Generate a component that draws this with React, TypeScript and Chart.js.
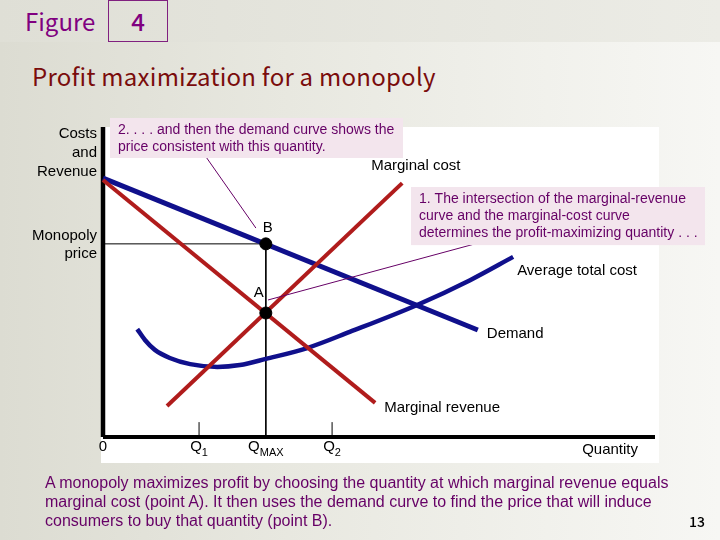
import React, { useEffect, useRef } from "react";
import { Chart, registerables } from "chart.js";

Chart.register(...registerables);

// ---- Axis ranges (quantity / costs & revenue units) ----
const X_MAX = 10;
const Y_MAX = 10;

// ---- Curves ----
const demandQ = [0, 6.79];
const demandP = [8.35, 3.45];

const mrQ = [0, 4.93];
const mrP = [8.29, 1.1];

const mcQ = [1.16, 5.42];
const mcP = [1.0, 8.19];

const atcQ = [0.62, 0.76, 0.94, 1.21, 1.58, 2.07, 2.48, 2.95, 3.7, 4.47, 5.69, 6.65, 7.43];
const atcP = [3.48, 3.13, 2.81, 2.55, 2.35, 2.26, 2.32, 2.52, 2.87, 3.39, 4.26, 5.06, 5.81];

// ---- Key values ----
const qMax = 2.95;
const monopolyPrice = 6.23;
const mrEqualsMc = 4.0;

// ---- Quantity ticks ----
const tickQ = [0, 1.74, 2.95, 4.15];
const tickMain = ["0", "Q", "Q", "Q"];
const tickSub = ["", "1", "MAX", "2"];
const tickMarkQ = [1.74, 4.15];
const tickMarkHeight = 0.48;

// ---- Text ----
const yAxisTitle = ["Costs", "and", "Revenue"];
const priceLabel = ["Monopoly", "price"];
const xAxisTitle = "Quantity";
const note2 = ["2. . . . and then the demand curve shows the", "price consistent with this quantity."];
const note1 = [
  "1. The intersection of the marginal-revenue",
  "curve and the marginal-cost curve",
  "determines the profit-maximizing quantity . . .",
];
const caption = [
  "A monopoly maximizes profit by choosing the quantity at which marginal revenue equals",
  "marginal cost (point A). It then uses the demand curve to find the price that will induce",
  "consumers to buy that quantity (point B).",
];

const pts = (xs: number[], ys: number[]) => xs.map((x, i) => ({ x, y: ys[i] }));

const SANS = '"Liberation Sans", Arial, sans-serif';
const JP = '"Noto Sans CJK JP", "Noto Sans", sans-serif';
const PURPLE = "#660066";
const BLUE = "#10108c";
const RED = "#b01c1c";
const PINK = "#f3e5ed";

const labelPlugin = {
  id: "econLabels",
  afterDraw(chart: any) {
    const { ctx } = chart;
    const xs = chart.scales.x;
    const ys = chart.scales.y;
    const X = (v: number) => xs.getPixelForValue(v);
    const Y = (v: number) => ys.getPixelForValue(v);
    ctx.save();
    ctx.textBaseline = "middle";

    // leader lines
    ctx.strokeStyle = PURPLE;
    ctx.lineWidth = 1;
    ctx.beginPath();
    ctx.moveTo(X(1.88), Y(9.0));
    ctx.lineTo(X(2.77), Y(6.74));
    ctx.moveTo(X(6.74), Y(6.23));
    ctx.lineTo(X(2.99), Y(4.42));
    ctx.stroke();

    // annotation boxes
    const box = (x0: number, x1: number, yT: number, yB: number, lines: string[]) => {
      const l = X(x0), r = X(x1), t = Y(yT), b = Y(yB);
      ctx.fillStyle = PINK;
      ctx.fillRect(l, t, r - l, b - t);
      ctx.fillStyle = PURPLE;
      ctx.font = `14px ${SANS}`;
      ctx.textAlign = "left";
      lines.forEach((s, i) => ctx.fillText(s, l + 8, t + 12 + i * 17));
    };
    box(0.127, 5.435, 10.29, 9.0, note2);
    box(5.58, 10.906, 8.065, 6.19, note1);

    // general labels
    ctx.fillStyle = "#000";
    ctx.font = `15px ${SANS}`;
    ctx.textAlign = "right";
    const ax = X(0) - 6;
    yAxisTitle.forEach((s, i) => ctx.fillText(s, ax, Y(Y_MAX) + 7 + i * 19));
    ctx.fillText(priceLabel[0], ax, Y(monopolyPrice) - 8);
    ctx.fillText(priceLabel[1], ax, Y(monopolyPrice) + 10);

    ctx.textAlign = "left";
    ctx.fillText("Demand", X(demandQ[1]) + 9, Y(demandP[1]) + 4);
    ctx.fillText("Marginal revenue", X(mrQ[1]) + 9, Y(mrP[1]) + 5);
    ctx.fillText("Marginal cost", X(mcQ[1]) - 31, Y(mcP[1]) - 17);
    ctx.fillText("Average total cost", X(atcQ[atcQ.length - 1]) + 4, Y(atcP[atcP.length - 1]) + 14);
    ctx.textAlign = "center";
    ctx.fillText("B", X(qMax) + 2, Y(monopolyPrice) - 16);
    ctx.fillText("A", X(qMax) - 7, Y(mrEqualsMc) - 20);

    // quantity tick labels
    const ty = Y(0) + 10;
    tickQ.forEach((q, i) => {
      ctx.font = `15px ${SANS}`;
      const wm = ctx.measureText(tickMain[i]).width;
      ctx.font = `11px ${SANS}`;
      const wsub = tickSub[i] ? ctx.measureText(tickSub[i]).width : 0;
      const start = X(q) - (wm + wsub) / 2;
      ctx.textAlign = "left";
      ctx.font = `15px ${SANS}`;
      ctx.fillText(tickMain[i], start, ty);
      if (tickSub[i]) {
        ctx.font = `11px ${SANS}`;
        ctx.fillText(tickSub[i], start + wm, ty + 6);
      }
    });
    ctx.font = `15px ${SANS}`;
    ctx.textAlign = "left";
    ctx.fillText(xAxisTitle, X(8.68), Y(0) + 13);
    ctx.restore();
  },
};

export default function App() {
  const ref = useRef<HTMLCanvasElement>(null);

  useEffect(() => {
    if (!ref.current) return;
    const line = (data: any[], color: string, width: number, extra: any = {}) => ({
      data,
      showLine: true,
      borderColor: color,
      borderWidth: width,
      pointRadius: 0,
      clip: false,
      ...extra,
    });
    const chart = new Chart(ref.current, {
      type: "scatter",
      data: {
        datasets: [
          {
            data: [
              { x: qMax, y: monopolyPrice },
              { x: qMax, y: mrEqualsMc },
            ],
            showLine: false,
            pointRadius: 6,
            backgroundColor: "#000",
            borderColor: "#000",
            clip: false,
          },
          line(pts(mcQ, mcP), RED, 4),
          line(pts(mrQ, mrP), RED, 4),
          line(pts(demandQ, demandP), BLUE, 5),
          line(pts(atcQ, atcP), BLUE, 4.5, { cubicInterpolationMode: "monotone" }),
          line([{ x: qMax, y: monopolyPrice }, { x: qMax, y: 0 }], "#000", 1),
          line([{ x: 0, y: monopolyPrice }, { x: qMax, y: monopolyPrice }], "#000", 1),
          ...tickMarkQ.map((q) => line([{ x: q, y: 0 }, { x: q, y: tickMarkHeight }], "#000", 1)),
          line([{ x: 0, y: 0 }, { x: X_MAX, y: 0 }], "#000", 4),
          line([{ x: 0, y: 0 }, { x: 0, y: Y_MAX }], "#000", 4.5),
        ],
      },
      options: {
        animation: false,
        responsive: false,
        devicePixelRatio: 1,
        layout: { padding: { left: 103, top: 127, right: 65, bottom: 103 } },
        scales: {
          x: { type: "linear", min: 0, max: X_MAX, display: false },
          y: { type: "linear", min: 0, max: Y_MAX, display: false },
        },
        plugins: { legend: { display: false }, tooltip: { enabled: false } },
      },
      plugins: [labelPlugin],
    });
    return () => chart.destroy();
  }, []);

  return (
    <div
      style={{
        position: "fixed",
        left: 0,
        top: 0,
        width: 720,
        height: 540,
        overflow: "hidden",
        background: "linear-gradient(to right, #dcdcd2 0%, #e8e8e0 40%, #f7f7f4 100%)",
      }}
    >
      <div style={{ position: "absolute", left: 0, top: 0, width: 720, height: 42, background: "linear-gradient(to right, #dfdfd6, #ececE6)" }} />
      <div
        style={{
          position: "absolute",
          left: 25,
          top: 6,
          fontFamily: JP,
          fontSize: 24,
          lineHeight: "30px",
          color: "#800080",
        }}
      >
        Figure
      </div>
      <div
        style={{
          position: "absolute",
          left: 108,
          top: 0,
          width: 60,
          height: 42,
          boxSizing: "border-box",
          border: "1.5px solid #80207f",
          fontFamily: JP,
          fontSize: 24,
          fontWeight: 500,
          lineHeight: "40px",
          textAlign: "center",
          color: "#800080",
        }}
      >
        4
      </div>
      <div
        style={{
          position: "absolute",
          left: 32,
          top: 60,
          fontFamily: JP,
          fontSize: 24,
          letterSpacing: "0.25px",
          lineHeight: "32px",
          color: "#7a0c0c",
          whiteSpace: "nowrap",
        }}
      >
        Profit maximization for a monopoly
      </div>
      <div style={{ position: "absolute", left: 101, top: 127, width: 558, height: 336, background: "#ffffff" }} />
      <canvas ref={ref} width={720} height={540} style={{ position: "absolute", left: 0, top: 0 }} />
      <div
        style={{
          position: "absolute",
          left: 45,
          top: 473,
          fontFamily: SANS,
          fontSize: 16,
          lineHeight: "19px",
          color: PURPLE,
          whiteSpace: "nowrap",
        }}
      >
        {caption.map((s, i) => (
          <div key={i}>{s}</div>
        ))}
      </div>
      <div
        style={{
          position: "absolute",
          left: 689,
          top: 511,
          fontFamily: JP,
          fontSize: 14,
          fontWeight: 500,
          lineHeight: "20px",
          color: "#000",
        }}
      >
        13
      </div>
    </div>
  );
}
